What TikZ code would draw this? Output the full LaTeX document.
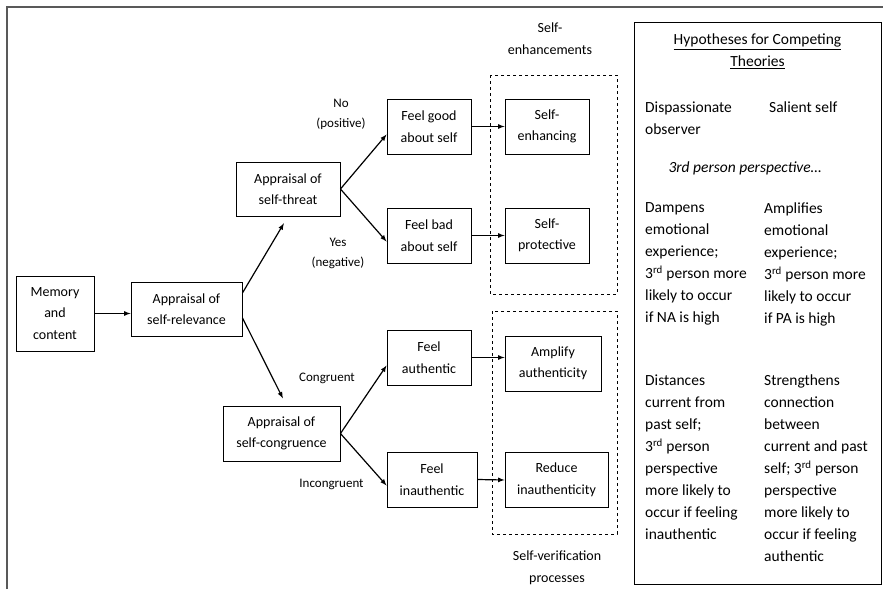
\documentclass[tikz,border=0pt]{standalone}
\usepackage{fontspec}
\setmainfont{Carlito}

\begin{document}
\begin{tikzpicture}[
        x=1pt, y=-1pt, % координаты в пикселях, ось y вниз
        box/.style = {draw, line width=0.9pt, align=center, inner sep=2pt, minimum height=55pt,
            font=\fontsize{14}{21.5}\selectfont}, % Стиль узлов
        branch/.style = {align=center, font=\fontsize{13}{20}\selectfont},
        grouplabel/.style = {align=center, font=\fontsize{14}{22}\selectfont},
        arrow/.style = {draw, line width=1.2pt, -latex},
        group/.style = {draw, dashed, line width=0.9pt},
        hyptext/.style = {anchor=north west, align=left, inner sep=0pt,
            font=\fontsize{15.5}{22}\selectfont},
    ]
    \useasboundingbox (0,0) rectangle (883,589);

    % рамка
    \draw[line width=2pt, black!65] (7,589) -- (7,7) -- (883,7);

    \node[box, minimum width=78pt, minimum height=75pt] (memory) at (55,313.5) {Memory\\and\\content};
    \node[box, minimum width=111pt, minimum height=54pt] (relevance) at (186.5,309) {Appraisal of\\self-relevance};
    \node[box, minimum width=104pt, minimum height=54pt] (threat) at (288,189) {Appraisal of\\self-threat};
    \node[box, minimum width=117pt] (congruence) at (281.5,433.5) {Appraisal of\\self-congruence};

    \node[box, minimum width=84pt] (good) at (429,126.5) {Feel good\\about self};
    \node[box, minimum width=84pt] (bad) at (429,235.5) {Feel bad\\about self};
    \node[box, minimum width=84pt] (authentic) at (429,357.5) {Feel\\authentic};
    \node[box, minimum width=90pt] (inauthentic) at (432,479.5) {Feel\\inauthentic};

    \node[box, minimum width=84pt] (enhancing) at (547,126.5) {Self-\\enhancing};
    \node[box, minimum width=84pt] (protective) at (547,235.5) {Self-\\protective};
    \node[box, minimum width=96pt] (amplify) at (553,363.5) {Amplify\\authenticity};
    \node[box, minimum width=103pt] (reduce) at (556.5,480) {Reduce\\inauthenticity};

    % пунктирные группы
    \draw[group] (490,75) rectangle (617,294);
    \draw[group] (492,311) rectangle (617,534);
    \node[grouplabel] (enhlabel) at (550,39) {Self-\\enhancements};
    \node[grouplabel] (verlabel) at (557,568) {Self-verification\\processes};

    % подписи ветвей
    \node[branch] (no) at (341,114) {No\\(positive)};
    \node[branch] (yes) at (338,253) {Yes\\(negative)};
    \node[branch] (congr) at (327,378) {Congruent};
    \node[branch] (incongr) at (331.5,484) {Incongruent};

    % стрелки
    \draw[arrow] (memory.east) -- (memory.east -| relevance.west);
    \draw[arrow, shorten >=8pt] (relevance.16) -- (threat.south);
    \draw[arrow, shorten >=8pt] (relevance.-9) -- ([xshift=5pt]congruence.north);
    \draw[arrow] (threat.east) -- ([yshift=-8pt]good.west);
    \draw[arrow] (threat.east) -- ([yshift=-6pt]bad.west);
    \draw[arrow] (congruence.east) -- ([yshift=-8pt]authentic.west);
    \draw[arrow] (congruence.east) -- ([yshift=-6pt]inauthentic.west);
    \draw[arrow] (good.east) -- (enhancing.west);
    \draw[arrow] (bad.east) -- (protective.west);
    \draw[arrow] (authentic.east) -- (authentic.east -| amplify.west);
    \draw[arrow] (inauthentic.east) -- (reduce.west);

    % гипотезы
    \node[draw, line width=0.9pt, minimum width=247pt, minimum height=562pt] (hyp) at (757.5,303) {};
    \node[anchor=north, align=center, inner sep=0pt, font=\fontsize{15.5}{22}\selectfont] (hyptitle) at (757.5,34)
        {\underline{Hypotheses for Competing}\\\underline{Theories}};
    \node[hyptext] (observer) at (645,101.5) {Dispassionate\\observer};
    \node[hyptext] (salient) at (769,101.5) {Salient self};
    \node[font=\fontsize{15.5}{22}\selectfont\itshape] (perspective) at (745,168) {3rd person perspective…};
    \node[hyptext] (dampens) at (645,202.5) {Dampens\\emotional\\experience;\\3\textsuperscript{rd} person more\\likely to occur\\if NA is high};
    \node[hyptext] (amplifies) at (764,202.5) {Amplifies\\emotional\\experience;\\3\textsuperscript{rd} person more\\likely to occur\\if PA is high};
    \node[hyptext] (distances) at (645,374.5) {Distances\\current from\\past self;\\3\textsuperscript{rd} person\\perspective\\more likely to\\occur if feeling\\inauthentic};
    \node[hyptext] (strengthens) at (764,374.5) {Strengthens\\connection\\between\\current and past\\self; 3\textsuperscript{rd} person\\perspective\\more likely to\\occur if feeling\\authentic};

\end{tikzpicture}
\end{document}
